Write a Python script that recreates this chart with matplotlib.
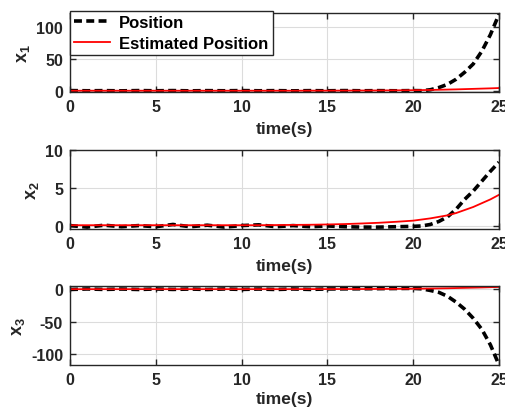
import matplotlib
matplotlib.use('Agg')
import matplotlib.pyplot as plt

plt.rcParams['font.family'] = ['Liberation Sans', 'DejaVu Sans']
plt.rcParams['font.weight'] = 'bold'
plt.rcParams['axes.unicode_minus'] = False
plt.rcParams['mathtext.fontset'] = 'custom'
plt.rcParams['mathtext.bf'] = 'Liberation Sans:bold'
plt.rcParams['mathtext.rm'] = 'Liberation Sans:bold'
plt.rcParams['mathtext.default'] = 'bf'

# time samples (s)
t = [0, 1, 2, 3, 4, 5, 6, 7, 8, 9, 10, 11, 12, 13, 14, 15, 16, 17, 18, 19,
     20, 20.5, 21, 21.5, 22, 22.5, 23, 23.5, 24, 24.5, 25]

# true states
x1_pos = [0.2, -0.1, 0.1, -0.2, 0.2, -0.1, 0.2, -0.2, 0.1, -0.1, 0.2, -0.1, 0.1, -0.2, 0.1,
          -0.1, 0.2, -0.1, 0.1, -0.1, 0.2, 0.0, 1.5, 5, 10, 18, 29, 42, 62, 88, 120]
x2_pos = [0.05, -0.15, 0.1, -0.1, 0.05, -0.1, 0.2, -0.1, 0.1, -0.15, 0.05, 0.15, -0.1, 0.05,
          -0.1, 0.0, -0.1, -0.15, -0.15, -0.1, -0.05, 0.0, 0.2, 0.6, 1.2, 2.2, 3.5, 4.6, 5.9, 7.2, 8.4]
x3_pos = [-0.5, 0.3, -0.4, 0.2, -0.5, 0.3, -0.4, 0.2, -0.5, 0.3, -0.4, 0.2, -0.5, 0.3, -0.4,
          0.3, 0.5, 0.6, 0.8, 1.0, 1.2, 0.5, -2, -5, -11, -20, -31, -45, -62, -86, -117]

# estimated states
x1_est = [0, 0, 0, 0, 0, 0, 0, 0, 0, 0, 0, 0, 0, 0, 0.1, 0.1, 0.2, 0.3, 0.4, 0.6,
          0.8, 1.0, 1.2, 1.5, 1.8, 2.1, 2.5, 2.9, 3.3, 3.7, 4.2]
x2_est = [0.1, 0.1, 0.1, 0.1, 0.1, 0.1, 0.1, 0.1, 0.1, 0.1, 0.1, 0.1, 0.12, 0.14, 0.16,
          0.2, 0.25, 0.33, 0.42, 0.55, 0.7, 0.85, 1.0, 1.2, 1.4, 1.7, 2.1, 2.5, 3.0, 3.5, 4.1]
x3_est = [0, 0, 0, 0, 0, 0, 0, 0, 0, 0, 0, 0, 0, 0, 0.1, 0.1, 0.2, 0.2, 0.3, 0.4,
          0.6, 0.8, 1.0, 1.2, 1.4, 1.7, 2.0, 2.3, 2.6, 3.0, 3.4]

ylabels = ['x$_1$', 'x$_2$', 'x$_3$']
ylims = [(-2, 122), (-0.4, 10), (-117, 5)]
yticks = [[0, 50, 100], [0, 5, 10], [-100, -50, 0]]
xticks = [0, 5, 10, 15, 20, 25]

fig = plt.figure(figsize=(5.05, 4.10), dpi=100)
boxes = [[0.1386, 0.7732, 0.8495, 0.1927],
         [0.1386, 0.439, 0.8495, 0.1927],
         [0.1386, 0.1075, 0.8495, 0.1927]]

pos = [x1_pos, x2_pos, x3_pos]
est = [x1_est, x2_est, x3_est]
dark = '#262626'

for i in range(3):
    ax = fig.add_axes(boxes[i])
    ax.plot(t, pos[i], '--', color='black', lw=2.6, dashes=(2.2, 1.2), label='Position')
    ax.plot(t, est[i], '-', color='red', lw=1.3, label='Estimated Position')
    ax.set_xlim(0, 25)
    ax.set_ylim(*ylims[i])
    ax.set_xticks(xticks)
    ax.set_yticks(yticks[i])
    ax.grid(True, color='#dcdcdc', lw=0.8)
    ax.set_axisbelow(True)
    ax.tick_params(direction='in', top=True, right=True, labelsize=11.5, length=4,
                   width=1, pad=5, colors=dark)
    for lab in ax.get_xticklabels() + ax.get_yticklabels():
        lab.set_fontweight('bold')
    for sp in ax.spines.values():
        sp.set_linewidth(1.0)
        sp.set_color(dark)
    ax.set_xlabel('time(s)', fontsize=12.5, fontweight='bold', color=dark,
                  labelpad=5 if i < 2 else 3)
    ax.set_ylabel(ylabels[i], fontsize=13, fontweight='bold', color=dark, labelpad=3)
    if i == 0:
        leg = ax.legend(loc='upper left', bbox_to_anchor=(0, 1.03), borderaxespad=0,
                        fancybox=False, framealpha=1, edgecolor=dark,
                        prop={'weight': 'bold', 'size': 12}, handlelength=2.15,
                        borderpad=0.25, labelspacing=0.35, handletextpad=0.55)
        leg.get_frame().set_linewidth(1.0)

fig.savefig('out.png', dpi=100)
